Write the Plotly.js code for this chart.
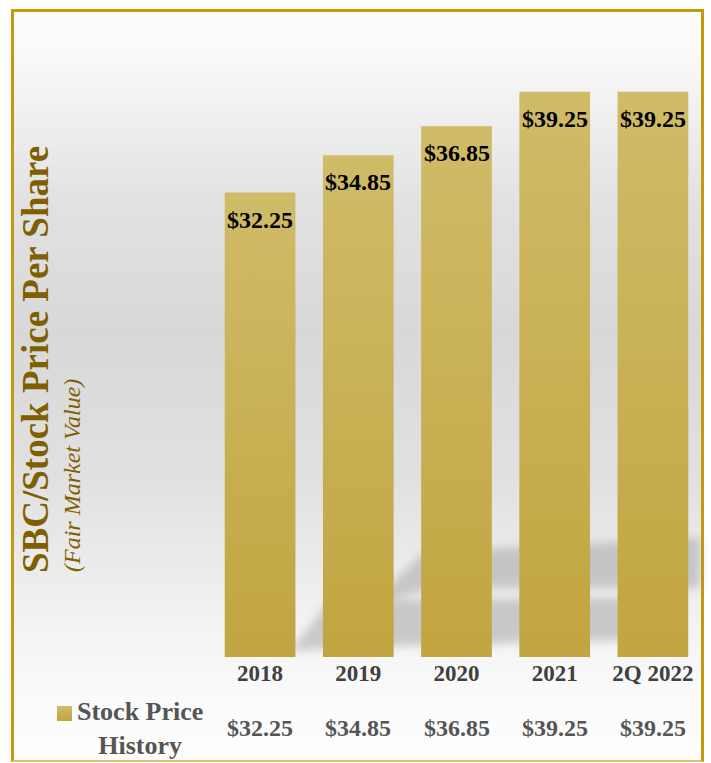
<!DOCTYPE html>
<html><head><meta charset="utf-8">
<script src="https://cdn.plot.ly/plotly-3.0.1.min.js"></script>
<style>
html,body{margin:0;padding:0;background:#fff;}
#wrap{position:relative;width:711px;height:763px;overflow:hidden;}
#frame{position:absolute;left:11px;top:9px;width:693px;height:753px;box-sizing:border-box;
 border:3px solid #C49A0C;border-bottom:2px solid #DCC170;
 background:linear-gradient(to bottom,#fdfdfd 0%,#f9f9f9 6%,#e2e2e2 25%,#d8d8d8 43%,#e1e1e1 63%,#f2f2f2 81%,#fbfbfb 92%,#fdfdfd 100%);}
#chart{position:absolute;left:0;top:0;width:711px;height:763px;}
</style></head>
<body><div id="wrap"><div id="frame"></div><div id="chart"></div></div>
<script>
const categories = ['2018', '2019', '2020', '2021', '2Q 2022'];
const stockPrice = [32.25, 34.85, 36.85, 39.25, 39.25];
const seriesName = 'Stock Price<br>History';
const yTitle = 'SBC/Stock Price Per Share';
const ySubtitle = '(Fair Market Value)';

const L = 211, R = 9, T = 81, B = 106, W = 711, H = 763;
const pw = W - L - R, ph = H - T - B;
const px = x => (x - L) / pw;
const py = y => (H - B - y) / ph;
const fmt = v => '$' + v.toFixed(2);
const serif = 'Liberation Serif, Times New Roman, serif';

const data = [{
  type: 'bar', x: categories, y: stockPrice,
  marker: {color: '#C9B152', line: {width: 0}},
  hoverinfo: 'none'
}];

const annotations = [];
categories.forEach((c, i) => {
  annotations.push({x: i, y: stockPrice[i], xref: 'x', yref: 'y', text: fmt(stockPrice[i]),
    showarrow: false, yanchor: 'middle', xanchor: 'center', yshift: -27,
    font: {family: serif, size: 24, color: '#000', weight: 'bold'}});
  annotations.push({x: i, y: py(728), xref: 'x', yref: 'paper', text: fmt(stockPrice[i]),
    showarrow: false, yanchor: 'middle', xanchor: 'center',
    font: {family: serif, size: 24, color: '#555555', weight: 'bold'}});
});
annotations.push({x: px(140), y: py(728), xref: 'paper', yref: 'paper', text: seriesName,
  showarrow: false, xanchor: 'center', yanchor: 'middle',
  font: {family: serif, size: 26, color: '#555555', weight: 'bold'}});
annotations.push({x: px(35), y: py(360), xref: 'paper', yref: 'paper', text: yTitle,
  showarrow: false, textangle: -90, xanchor: 'center', yanchor: 'middle',
  font: {family: serif, size: 37, color: '#7F6000', weight: 'bold'}});
annotations.push({x: px(72), y: py(476), xref: 'paper', yref: 'paper', text: ySubtitle,
  showarrow: false, textangle: -90, xanchor: 'center', yanchor: 'middle',
  font: {family: serif, size: 24, color: '#7F6000', style: 'italic'}});

function poly(pts) {
  return 'M ' + pts.map(p => px(p[0]) + ',' + py(p[1])).join(' L ') + ' Z';
}
const shapes = [
  {type: 'path', xref: 'paper', yref: 'paper', layer: 'below', line: {width: 0},
   fillcolor: 'rgb(150,150,150)', opacity: 0.45,
   path: poly([[365, 608], [425, 552], [700, 538], [700, 588], [430, 588]])},
  {type: 'path', xref: 'paper', yref: 'paper', layer: 'below', line: {width: 0},
   fillcolor: 'rgb(150,150,150)', opacity: 0.45,
   path: poly([[290, 652], [330, 600], [640, 598], [640, 640], [330, 648]])},
  {type: 'rect', xref: 'paper', yref: 'paper', layer: 'above', line: {width: 0},
   fillcolor: '#C9B153', x0: px(57), x1: px(72), y0: py(721), y1: py(706)}
];

const layout = {
  width: W, height: H,
  margin: {l: L, r: R, t: T, b: B, pad: 0},
  paper_bgcolor: 'rgba(0,0,0,0)', plot_bgcolor: 'rgba(0,0,0,0)',
  showlegend: false, bargap: 0.28,
  xaxis: {type: 'category', range: [-0.5, 4.5], showgrid: false, zeroline: false, showline: false, ticks: '',
    tickfont: {family: serif, size: 23, color: '#404040', weight: 'bold'}, fixedrange: true},
  yaxis: {range: [0, 40], visible: false, fixedrange: true},
  annotations: annotations, shapes: shapes
};

Plotly.newPlot('chart', data, layout, {staticPlot: true, displayModeBar: false}).then(gd => {
  const ns = 'http://www.w3.org/2000/svg';
  const svg = gd.querySelector('svg.main-svg');
  let defs = svg.querySelector('defs');
  if (!defs) { defs = document.createElementNS(ns, 'defs'); svg.insertBefore(defs, svg.firstChild); }
  const lg = document.createElementNS(ns, 'linearGradient');
  lg.setAttribute('id', 'barGrad');
  lg.setAttribute('x1', '0'); lg.setAttribute('y1', '0'); lg.setAttribute('x2', '0'); lg.setAttribute('y2', '1');
  [['0%', '#D0BB68'], ['100%', '#C1A540']].forEach(s => {
    const st = document.createElementNS(ns, 'stop');
    st.setAttribute('offset', s[0]); st.setAttribute('stop-color', s[1]);
    lg.appendChild(st);
  });
  defs.appendChild(lg);
  const flt = document.createElementNS(ns, 'filter');
  flt.setAttribute('id', 'blurF');
  flt.setAttribute('x', '-30%'); flt.setAttribute('y', '-60%');
  flt.setAttribute('width', '160%'); flt.setAttribute('height', '220%');
  const gb = document.createElementNS(ns, 'feGaussianBlur');
  gb.setAttribute('stdDeviation', '5');
  flt.appendChild(gb); defs.appendChild(flt);
  gd.querySelectorAll('.bars .point path').forEach(p => { p.style.fill = 'url(#barGrad)'; });
  gd.querySelectorAll('path').forEach(p => {
    const f = p.style.fill;
    if (f === 'rgb(201, 177, 83)') p.style.fill = 'url(#barGrad)';
    if (f === 'rgb(150, 150, 150)') { p.setAttribute('filter', 'url(#blurF)'); p.style.filter = 'blur(5px)'; }
  });
});
</script></body></html>
